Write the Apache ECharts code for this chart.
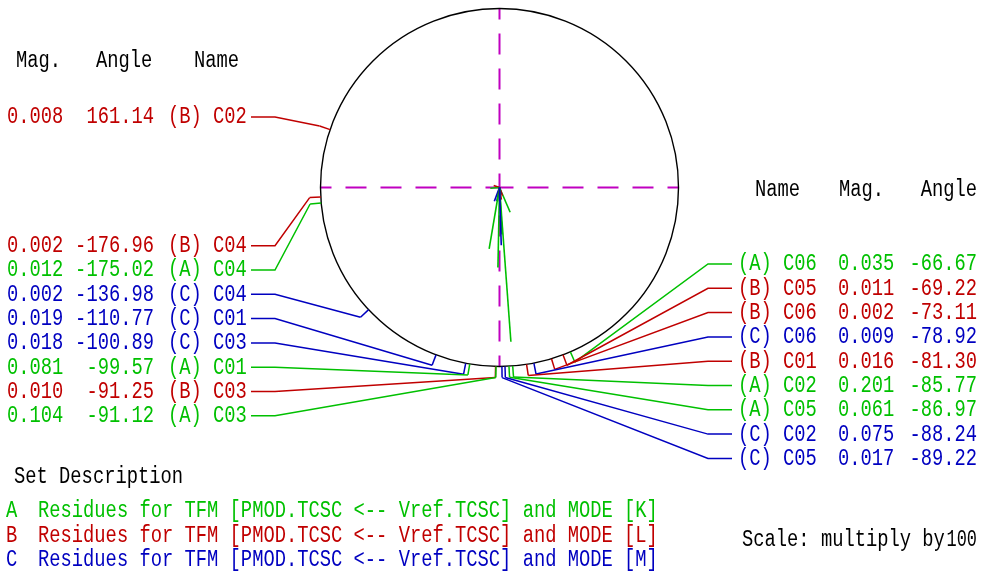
<!DOCTYPE html>
<html>
<head>
<meta charset="utf-8">
<title>Residues</title>
<script src="https://cdn.jsdelivr.net/npm/echarts@6/dist/echarts.min.js"></script>
<style>
html,body{margin:0;padding:0;background:#fff;}
#main{width:982px;height:573px;}
</style>
</head>
<body>
<div id="main"></div>
<script>
// sets
var setNames = ['A', 'B', 'C'];
var setColors = ['#00c000', '#c00000', '#0000c0'];
var setText = [
    'Residues for TFM [PMOD.TCSC <-- Vref.TCSC] and MODE [K]',
    'Residues for TFM [PMOD.TCSC <-- Vref.TCSC] and MODE [L]',
    'Residues for TFM [PMOD.TCSC <-- Vref.TCSC] and MODE [M]'
];

// residues
var resSet = ['B','B','A','C','C','C','A','B','A','A','B','B','C','B','A','A','C','C'];
var resName = ['C02','C04','C04','C04','C01','C03','C01','C03','C03','C06','C05','C06','C06','C01','C02','C05','C02','C05'];
var resMag = [0.008,0.002,0.012,0.002,0.019,0.018,0.081,0.010,0.104,0.035,0.011,0.002,0.009,0.016,0.201,0.061,0.075,0.017];
var resAngle = [161.14,-176.96,-175.02,-136.98,-110.77,-100.89,-99.57,-91.25,-91.12,-66.67,-69.22,-73.11,-78.92,-81.30,-85.77,-86.97,-88.24,-89.22];

var scaleFactor = 100;
var ringMag = 0.2327;   // magnitude at the circle

var font = '18.8px "Liberation Mono", "DejaVu Sans Mono", monospace';
var stretchY = 1.3;
var rowGap = 24.3;
var groupTop = {LU: 117, L: 245.7, R: 264};

// label slots: left / right of the circle, top to bottom
var groups = {LU: [], L: [], R: []};
for (var i = 0; i < resAngle.length; i++) {
    var rad = resAngle[i] * Math.PI / 180;
    var g = Math.cos(rad) >= 0 ? 'R' : (Math.sin(rad) > 0 ? 'LU' : 'L');
    groups[g].push(i);
}
function ccw(a){ return (a + 360) % 360; }
groups.LU.sort(function(a, b){ return ccw(resAngle[a]) - ccw(resAngle[b]); });
groups.L.sort(function(a, b){ return ccw(resAngle[a]) - ccw(resAngle[b]); });
groups.R.sort(function(a, b){ return resAngle[b] - resAngle[a]; });
var slot = [];
['LU', 'L', 'R'].forEach(function(g){
    groups[g].forEach(function(idx, k){
        slot[idx] = {side: g === 'R' ? 'R' : 'L', y: groupTop[g] + k * rowGap};
    });
});

function txt(x, y, s, color, align){
    return {
        type: 'text', x: x, y: y, scaleY: stretchY,
        style: {text: s, fill: color, font: font, align: align || 'left', verticalAlign: 'middle',
                textAlign: align || 'left', textVerticalAlign: 'middle'}
    };
}

function renderResidue(params, api){
    var i = params.dataIndex;
    var mag = api.value(0), ang = api.value(1);
    var col = setColors[setNames.indexOf(resSet[i])];
    var c = api.coord([0, ang]);
    var p = api.coord([mag, ang]);
    var t0 = api.coord([ringMag, ang]);
    var t1 = api.coord([ringMag * 1.062, ang]);
    var s = slot[i];
    var ls = {stroke: col, lineWidth: 1.5, fill: null};
    var children = [
        {type: 'line', shape: {x1: c[0], y1: c[1], x2: p[0], y2: p[1]}, style: {stroke: col, lineWidth: 1.6}},
        {type: 'line', shape: {x1: t0[0], y1: t0[1], x2: t1[0], y2: t1[1]}, style: ls}
    ];
    var magTxt = mag.toFixed(3), angTxt = ang.toFixed(2), nm = '(' + resSet[i] + ') ' + resName[i];
    if (s.side === 'L') {
        children.push({type: 'polyline', shape: {points: [t1, [275, s.y], [251, s.y]]}, style: ls});
        children.push(txt(7, s.y, magTxt, col));
        children.push(txt(154, s.y, angTxt, col, 'right'));
        children.push(txt(168, s.y, nm, col));
    } else {
        children.push({type: 'polyline', shape: {points: [t1, [708, s.y], [732, s.y]]}, style: ls});
        children.push(txt(738, s.y, nm, col));
        children.push(txt(838, s.y, magTxt, col));
        children.push(txt(977, s.y, angTxt, col, 'right'));
    }
    return {type: 'group', children: children};
}

var myChart = echarts.init(document.getElementById('main'));

var scaleNum = txt(977, 540, String(scaleFactor), '#000', 'right');
scaleNum.scaleX = 0.9;

var graphics = [
    txt(16, 61, 'Mag.', '#000'),
    txt(96, 61, 'Angle', '#000'),
    txt(194, 61, 'Name', '#000'),
    txt(755, 190, 'Name', '#000'),
    txt(839, 190, 'Mag.', '#000'),
    txt(977, 190, 'Angle', '#000', 'right'),
    txt(14, 477, 'Set Description', '#000'),
    txt(742, 540, 'Scale: multiply by', '#000'),
    scaleNum
];
for (var k = 0; k < setNames.length; k++) {
    graphics.push(txt(6, 511 + k * 24.2, setNames[k], setColors[k]));
    graphics.push(txt(38, 511 + k * 24.2, setText[k], setColors[k]));
}

option = {
    animation: false,
    backgroundColor: '#fff',
    polar: {center: [499.5, 187.5], radius: 179},
    angleAxis: {
        type: 'value', min: -180, max: 180, interval: 90,
        startAngle: 180, clockwise: false,
        axisLine: {lineStyle: {color: '#000', width: 1.4}},
        axisTick: {show: false},
        axisLabel: {show: false},
        splitLine: {show: true, lineStyle: {color: '#c000c0', width: 2, type: [21, 14], dashOffset: 10}}
    },
    radiusAxis: {
        type: 'value', min: 0, max: ringMag,
        axisLine: {show: false}, axisTick: {show: false},
        axisLabel: {show: false}, splitLine: {show: false}
    },
    graphic: graphics,
    series: [{
        type: 'custom',
        coordinateSystem: 'polar',
        renderItem: renderResidue,
        encode: {radius: 0, angle: 1},
        data: resMag.map(function(m, i){ return [m, resAngle[i]]; }),
        z: 5
    }]
};
myChart.setOption(option, true);
</script>
</body>
</html>
